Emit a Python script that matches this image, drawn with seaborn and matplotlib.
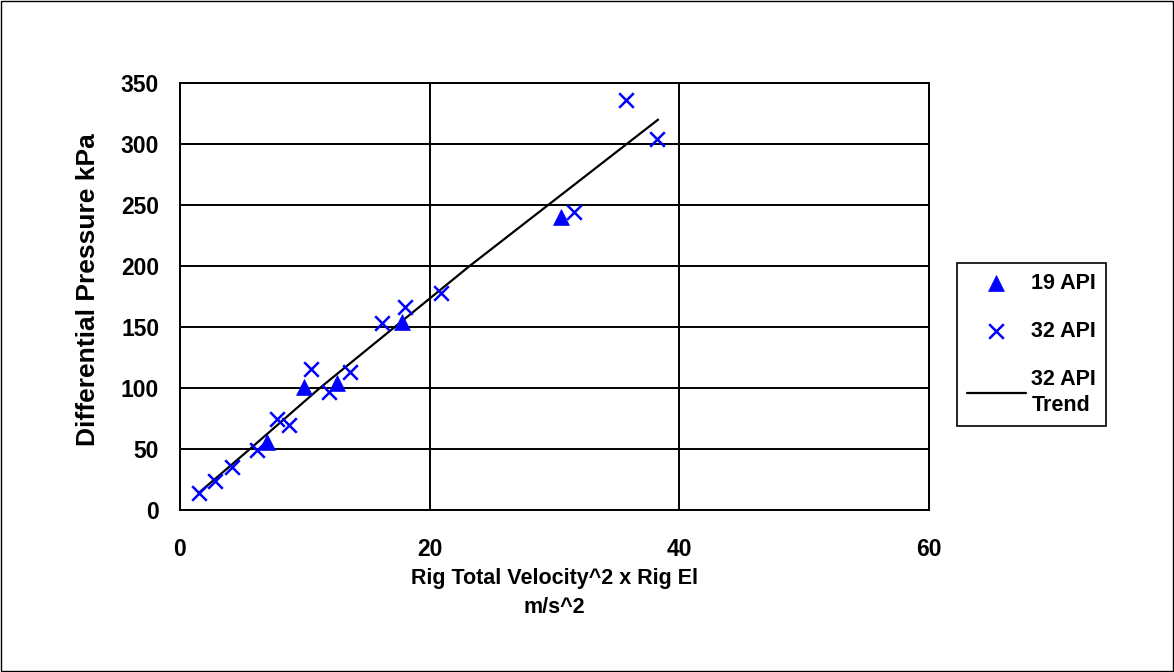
import matplotlib
matplotlib.use("Agg")
import matplotlib.pyplot as plt
from matplotlib.patches import Rectangle
import seaborn as sns
import pandas as pd

# 19 API measurements
api19_x = [6.95, 9.96, 12.55, 17.76, 30.5]
api19_y = [55.7, 100.5, 103.8, 154.3, 240.0]

# 32 API measurements
api32_x = [1.5, 2.8, 4.2, 6.2, 7.8, 8.7, 10.5, 11.9, 13.6, 16.2, 18.0, 20.9, 31.6, 35.7, 38.2]
api32_y = [14.0, 23.8, 35.0, 49.5, 75.0, 69.5, 115.5, 97.0, 113.0, 153.0, 166.0, 178.0, 244.0, 336.0, 304.0]

# 32 API trend line
trend_x = [1.5, 5.6, 11.2, 23.2, 38.3]
trend_y = [14.0, 50.0, 100.0, 200.0, 320.0]

x_ticks = [0, 20, 40, 60]
y_ticks = [0, 50, 100, 150, 200, 250, 300, 350]

sns.set_theme(style="white")
plt.rcParams["font.family"] = ["Liberation Sans", "DejaVu Sans"]
plt.rcParams["font.weight"] = "bold"
plt.rcParams["text.color"] = "black"
plt.rcParams["axes.labelcolor"] = "black"

df19 = pd.DataFrame({"x": api19_x, "y": api19_y})
df32 = pd.DataFrame({"x": api32_x, "y": api32_y})
dft = pd.DataFrame({"x": trend_x, "y": trend_y})

fig = plt.figure(figsize=(11.74, 6.72), dpi=100)
ax = fig.add_axes([180 / 1174, 1 - 510 / 672, (929 - 180) / 1174, (510 - 83) / 672])

blue = "#0000FF"
sns.lineplot(data=dft, x="x", y="y", ax=ax, color="black", linewidth=1.6,
             label="32 API\nTrend", zorder=3)
sns.scatterplot(data=df19, x="x", y="y", ax=ax, marker="^", s=130, color=blue,
                edgecolor=blue, linewidth=0.5, label="19 API", zorder=4)
sns.scatterplot(data=df32, x="x", y="y", ax=ax, marker="x", s=110, color=blue,
                linewidth=1.8, label="32 API", zorder=4)

ax.set_xlim(0, 60)
ax.set_ylim(0, 350)
ax.set_xticks(x_ticks)
ax.set_yticks(y_ticks)
ax.grid(True, color="black", linewidth=1.4)
ax.set_axisbelow(True)
for sp in ax.spines.values():
    sp.set_color("black")
    sp.set_linewidth(1.4)
    sp.set_visible(True)

ax.tick_params(axis="both", which="major", direction="out", length=6, width=1.4,
               color="black", labelsize=16.5, labelcolor="black")
ax.tick_params(axis="x", pad=14)
ax.tick_params(axis="y", pad=9)
for lab in ax.get_xticklabels() + ax.get_yticklabels():
    lab.set_fontweight("bold")

ax.set_xlabel("Rig Total Velocity^2 x Rig El\nm/s^2", fontsize=15.5, fontweight="bold",
              color="black", linespacing=1.55)
ax.set_ylabel("Differential Pressure kPa", fontsize=19, fontweight="bold", color="black")
ax.xaxis.set_label_coords(0.5, -0.135, transform=ax.transAxes)
ax.yaxis.set_label_coords(-0.107, 0.515, transform=ax.transAxes)
ax.xaxis.label.set_va("top")

# Legend ordered: 19 API, 32 API, trend
handles, labels = ax.get_legend_handles_labels()
order = [labels.index("19 API"), labels.index("32 API"), labels.index("32 API\nTrend")]
if ax.get_legend():
    ax.get_legend().remove()
leg = fig.legend([handles[i] for i in order], [labels[i] for i in order],
                 loc="center left", bbox_to_anchor=(957 / 1174, 1 - 344.5 / 672),
                 frameon=True, fancybox=False, edgecolor="black", framealpha=1,
                 prop={"size": 15.5, "weight": "bold"}, labelspacing=1.25,
                 handlelength=2.75, handletextpad=0.25, borderpad=0.45,
                 borderaxespad=0)
leg.get_frame().set_linewidth(1.2)
for t in leg.get_texts():
    t.set_color("black")
    t.set_linespacing(1.35)

# Outer chart border
fig.patches.append(Rectangle((0.001, 0.0015), 0.998, 0.997, transform=fig.transFigure,
                             fill=False, edgecolor="black", linewidth=1.0))

fig.savefig("out.png", dpi=100)
